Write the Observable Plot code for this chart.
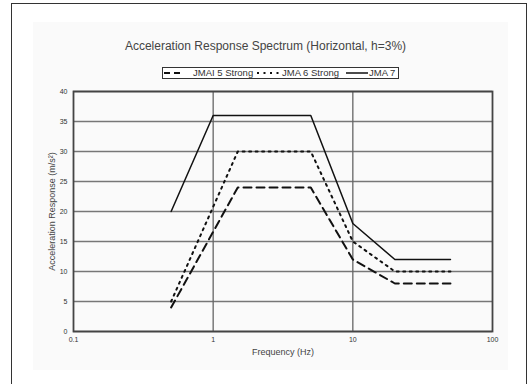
<!DOCTYPE html>
<html>
<head>
<meta charset="utf-8">
<script src="https://cdn.jsdelivr.net/npm/d3@7"></script>
<script src="https://cdn.jsdelivr.net/npm/@observablehq/plot@0.6"></script>
<style>
  html, body { margin: 0; padding: 0; background: #fff; }
  #wrap { position: relative; width: 531px; height: 384px; overflow: hidden; font-family: "Liberation Sans", Arial, sans-serif; }
  #outer { position: absolute; left: 11px; top: 3px; width: 516px; height: 400px; border: 1.5px solid #333; box-sizing: border-box; background: #fff; }
  #inner { position: absolute; left: 33px; top: 22px; width: 475px; height: 348px; background: #fafafa; }
  #title { position: absolute; left: 0; width: 531px; top: 39px; text-align: center; font-size: 12px; color: #444; }
  #legend { position: absolute; left: 162px; top: 67px; width: 237px; height: 12px; border: 1px solid #333; box-sizing: border-box; font-size: 9.5px; color: #333; white-space: nowrap; background: #fff; overflow: hidden; }
  #legend svg { position: absolute; top: 1px; display: block; }
  #legend span { position: absolute; top: -1px; line-height: 12px; }
  #chart { position: absolute; left: 0; top: 0; }
</style>
</head>
<body>
<div id="wrap">
  <div id="outer"></div>
  <div id="inner"></div>
  <div id="title">Acceleration Response Spectrum (Horizontal, h=3%)</div>
  <div id="legend"></div>
  <div id="chart"></div>
</div>
<script>
// Data
const freq5 = [0.5, 1.5, 5, 10, 20, 50];
const jma5  = [4, 24, 24, 12, 8, 8];
const freq6 = [0.5, 1.5, 5, 10, 20, 50];
const jma6  = [5, 30, 30, 15, 10, 10];
const freq7 = [0.5, 1, 5, 10, 20, 50];
const jma7  = [20, 36, 36, 18, 12, 12];
const seriesNames = ["JMAI 5 Strong", "JMA 6 Strong", "JMA 7"];
const xTicks = [0.1, 1, 10, 100];
const yTicks = [0, 5, 10, 15, 20, 25, 30, 35, 40];

const d5 = freq5.map((f, i) => ({f, v: jma5[i]}));
const d6 = freq6.map((f, i) => ({f, v: jma6[i]}));
const d7 = freq7.map((f, i) => ({f, v: jma7[i]}));

const styles = [
  {strokeWidth: 2, strokeDasharray: "8,5"},
  {strokeWidth: 2, strokeDasharray: "2,4.5"},
  {strokeWidth: 1.5, strokeDasharray: null}
];

const chart = Plot.plot({
  width: 531,
  height: 384,
  marginLeft: 73,
  marginRight: 39,
  marginTop: 91,
  marginBottom: 53,
  style: {background: "transparent", fontFamily: "Liberation Sans, Arial, sans-serif", fontSize: "7px", color: "#333"},
  x: {type: "log", domain: [0.1, 100], label: null},
  y: {domain: [0, 40], label: null},
  marks: [
    Plot.gridY(yTicks, {stroke: "#777", strokeOpacity: 1, strokeWidth: 1.3}),
    Plot.gridX([1, 10], {stroke: "#666", strokeOpacity: 1, strokeWidth: 1.3}),
    Plot.frame({stroke: "#444", strokeWidth: 1.8}),
    Plot.axisY(yTicks, {tickSize: 0, tickPadding: 6, fontSize: 7, label: null}),
    Plot.axisX(xTicks, {tickSize: 0, tickPadding: 6, fontSize: 7, label: null, tickFormat: d => String(d)}),
    Plot.line(d5, {x: "f", y: "v", stroke: "#111", ...styles[0]}),
    Plot.line(d6, {x: "f", y: "v", stroke: "#111", ...styles[1]}),
    Plot.line(d7, {x: "f", y: "v", stroke: "#111", ...styles[2]}),
    Plot.text(["Frequency (Hz)"], {frameAnchor: "bottom", dy: 23, fontSize: 9, fill: "#444"}),
    Plot.text(["Acceleration Response (m/s²)"], {frameAnchor: "left", textAnchor: "middle", dx: -21, rotate: -90, fontSize: 9, fill: "#444"})
  ]
});
document.getElementById("chart").appendChild(chart);

// Legend (HTML, with line samples matching the series styles)
const legend = document.getElementById("legend");
const sampleX = [[1, 19], [94, 118], [183, 205]];
const textX = [30, 119, 206];
const legendDash = ["6,4", "2,4.5", null];
seriesNames.forEach((name, i) => {
  const ns = "http://www.w3.org/2000/svg";
  const svg = document.createElementNS(ns, "svg");
  const [a, b] = sampleX[i];
  svg.setAttribute("width", b - a + 2);
  svg.setAttribute("height", 8);
  svg.style.left = (a - 1) + "px";
  const ln = document.createElementNS(ns, "line");
  ln.setAttribute("x1", 1); ln.setAttribute("x2", b - a + 1);
  ln.setAttribute("y1", 4); ln.setAttribute("y2", 4);
  ln.setAttribute("stroke", "#111");
  ln.setAttribute("stroke-width", styles[i].strokeWidth);
  if (legendDash[i]) ln.setAttribute("stroke-dasharray", legendDash[i]);
  svg.appendChild(ln);
  legend.appendChild(svg);
  const sp = document.createElement("span");
  sp.textContent = name;
  sp.style.left = textX[i] + "px";
  legend.appendChild(sp);
});
</script>
</body>
</html>
